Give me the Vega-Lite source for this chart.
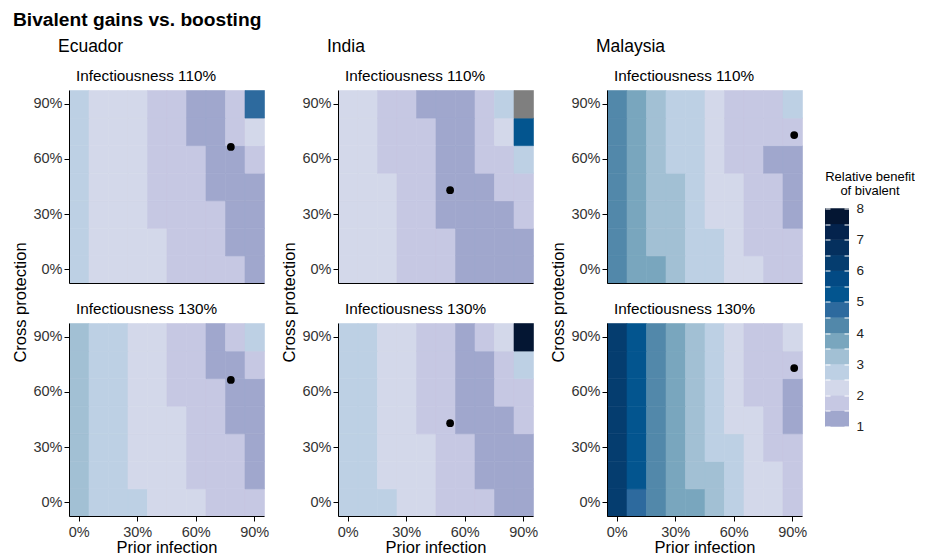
{
"$schema": "https://vega.github.io/schema/vega-lite/v6.json",
"background": "white",
"padding": {"left": 12, "top": 11, "right": 0, "bottom": 0},
"config": {
  "font": "Liberation Sans",
  "view": {"stroke": null},
  "axis": {"grid": false, "domainColor": "black", "domainWidth": 1, "tickColor": "black", "tickSize": 5, "labelColor": "#333333", "labelFontSize": 14.5, "labelPadding": 2, "labelFlush": false, "titleFontSize": 16.5, "titleFontWeight": "normal", "titleColor": "black"},
  "title": {"color": "black"}
},
"title": {"text": "Bivalent gains vs. boosting", "anchor": "start", "fontSize": 19.2, "fontWeight": "bold", "offset": 8},
"spacing": 12,
"center": true,
"hconcat": [
  {"title": {"text": "Ecuador", "anchor": "start", "fontSize": 17.5, "fontWeight": "normal", "offset": 13, "dx": 45},
   "spacing": 40, "bounds": "flush",
   "vconcat": [
    {"width": 195, "height": 193,
     "title": {"text": "Infectiousness 110%", "anchor": "start", "frame": "group", "fontSize": 15.3, "fontWeight": "normal", "dx": 7, "offset": 6},
     "layer": [
      {"data": {"name": "grid"}, "transform": [{"filter": "datum.country === 'Ecuador' && datum.inf === 110"}],
       "mark": {"type": "rect", "binSpacing": 0, "invalid": "show", "strokeWidth": 0.6},
       "encoding": {
        "x": {"field": "prior", "type": "quantitative", "bin": {"extent": [-5, 95], "step": 10, "nice": false}, "scale": {"domain": [-5, 95], "nice": false, "zero": false}, "axis": {"values": [0, 30, 60, 90], "labels": false, "ticks": false, "title": null}},
        "y": {"field": "cross", "type": "quantitative", "bin": {"extent": [-7.5, 97.5], "step": 15, "nice": false}, "scale": {"domain": [-7.5, 97.5], "nice": false, "zero": false}, "axis": {"values": [0, 30, 60, 90], "labelExpr": "datum.value + '%'", "title": "Cross protection", "titleY": 212}},
        "color": {"condition": {"test": "datum.benefit === null", "value": "#7f7f7f"}, "field": "benefit", "type": "quantitative", "legend": null, "scale": {"type": "threshold", "domain": [1.5, 2, 2.5, 3, 3.5, 4, 4.5, 5, 5.5, 6, 6.5, 7, 7.5], "range": ["#a0a7cd", "#c6c8e3", "#d3d8ea", "#bdd0e4", "#a2c0d4", "#79a6be", "#5288aa", "#2d6a9e", "#03558f", "#034a84", "#053d6f", "#05305e", "#04234d", "#041633"]}},
        "stroke": {"condition": {"test": "datum.benefit === null", "value": "#7f7f7f"}, "field": "benefit", "type": "quantitative", "legend": null, "scale": {"type": "threshold", "domain": [1.5, 2, 2.5, 3, 3.5, 4, 4.5, 5, 5.5, 6, 6.5, 7, 7.5], "range": ["#a0a7cd", "#c6c8e3", "#d3d8ea", "#bdd0e4", "#a2c0d4", "#79a6be", "#5288aa", "#2d6a9e", "#03558f", "#034a84", "#053d6f", "#05305e", "#04234d", "#041633"]}}
       }},
      {"data": {"name": "dots"}, "transform": [{"filter": "datum.country === 'Ecuador' && datum.inf === 110"}],
       "mark": {"type": "circle", "color": "black", "size": 60, "opacity": 1},
       "encoding": {"x": {"field": "prior", "type": "quantitative"}, "y": {"field": "cross", "type": "quantitative"}}}
     ]},
    {"width": 195, "height": 193,
     "title": {"text": "Infectiousness 130%", "anchor": "start", "frame": "group", "fontSize": 15.3, "fontWeight": "normal", "dx": 7, "offset": 6},
     "layer": [
      {"data": {"name": "grid"}, "transform": [{"filter": "datum.country === 'Ecuador' && datum.inf === 130"}],
       "mark": {"type": "rect", "binSpacing": 0, "invalid": "show", "strokeWidth": 0.6},
       "encoding": {
        "x": {"field": "prior", "type": "quantitative", "bin": {"extent": [-5, 95], "step": 10, "nice": false}, "scale": {"domain": [-5, 95], "nice": false, "zero": false}, "axis": {"values": [0, 30, 60, 90], "labelExpr": "datum.value + '%'", "labelPadding": 4, "title": "Prior infection", "titlePadding": 1}},
        "y": {"field": "cross", "type": "quantitative", "bin": {"extent": [-7.5, 97.5], "step": 15, "nice": false}, "scale": {"domain": [-7.5, 97.5], "nice": false, "zero": false}, "axis": {"values": [0, 30, 60, 90], "labelExpr": "datum.value + '%'", "title": null}},
        "color": {"condition": {"test": "datum.benefit === null", "value": "#7f7f7f"}, "field": "benefit", "type": "quantitative", "legend": null, "scale": {"type": "threshold", "domain": [1.5, 2, 2.5, 3, 3.5, 4, 4.5, 5, 5.5, 6, 6.5, 7, 7.5], "range": ["#a0a7cd", "#c6c8e3", "#d3d8ea", "#bdd0e4", "#a2c0d4", "#79a6be", "#5288aa", "#2d6a9e", "#03558f", "#034a84", "#053d6f", "#05305e", "#04234d", "#041633"]}},
        "stroke": {"condition": {"test": "datum.benefit === null", "value": "#7f7f7f"}, "field": "benefit", "type": "quantitative", "legend": null, "scale": {"type": "threshold", "domain": [1.5, 2, 2.5, 3, 3.5, 4, 4.5, 5, 5.5, 6, 6.5, 7, 7.5], "range": ["#a0a7cd", "#c6c8e3", "#d3d8ea", "#bdd0e4", "#a2c0d4", "#79a6be", "#5288aa", "#2d6a9e", "#03558f", "#034a84", "#053d6f", "#05305e", "#04234d", "#041633"]}}
       }},
      {"data": {"name": "dots"}, "transform": [{"filter": "datum.country === 'Ecuador' && datum.inf === 130"}],
       "mark": {"type": "circle", "color": "black", "size": 60, "opacity": 1},
       "encoding": {"x": {"field": "prior", "type": "quantitative"}, "y": {"field": "cross", "type": "quantitative"}}}
     ]}
   ]},
  {"title": {"text": "India", "anchor": "start", "fontSize": 17.5, "fontWeight": "normal", "offset": 13, "dx": 45},
   "spacing": 40, "bounds": "flush",
   "vconcat": [
    {"width": 195, "height": 193,
     "title": {"text": "Infectiousness 110%", "anchor": "start", "frame": "group", "fontSize": 15.3, "fontWeight": "normal", "dx": 7, "offset": 6},
     "layer": [
      {"data": {"name": "grid"}, "transform": [{"filter": "datum.country === 'India' && datum.inf === 110"}],
       "mark": {"type": "rect", "binSpacing": 0, "invalid": "show", "strokeWidth": 0.6},
       "encoding": {
        "x": {"field": "prior", "type": "quantitative", "bin": {"extent": [-5, 95], "step": 10, "nice": false}, "scale": {"domain": [-5, 95], "nice": false, "zero": false}, "axis": {"values": [0, 30, 60, 90], "labels": false, "ticks": false, "title": null}},
        "y": {"field": "cross", "type": "quantitative", "bin": {"extent": [-7.5, 97.5], "step": 15, "nice": false}, "scale": {"domain": [-7.5, 97.5], "nice": false, "zero": false}, "axis": {"values": [0, 30, 60, 90], "labelExpr": "datum.value + '%'", "title": "Cross protection", "titleY": 212}},
        "color": {"condition": {"test": "datum.benefit === null", "value": "#7f7f7f"}, "field": "benefit", "type": "quantitative", "legend": null, "scale": {"type": "threshold", "domain": [1.5, 2, 2.5, 3, 3.5, 4, 4.5, 5, 5.5, 6, 6.5, 7, 7.5], "range": ["#a0a7cd", "#c6c8e3", "#d3d8ea", "#bdd0e4", "#a2c0d4", "#79a6be", "#5288aa", "#2d6a9e", "#03558f", "#034a84", "#053d6f", "#05305e", "#04234d", "#041633"]}},
        "stroke": {"condition": {"test": "datum.benefit === null", "value": "#7f7f7f"}, "field": "benefit", "type": "quantitative", "legend": null, "scale": {"type": "threshold", "domain": [1.5, 2, 2.5, 3, 3.5, 4, 4.5, 5, 5.5, 6, 6.5, 7, 7.5], "range": ["#a0a7cd", "#c6c8e3", "#d3d8ea", "#bdd0e4", "#a2c0d4", "#79a6be", "#5288aa", "#2d6a9e", "#03558f", "#034a84", "#053d6f", "#05305e", "#04234d", "#041633"]}}
       }},
      {"data": {"name": "dots"}, "transform": [{"filter": "datum.country === 'India' && datum.inf === 110"}],
       "mark": {"type": "circle", "color": "black", "size": 60, "opacity": 1},
       "encoding": {"x": {"field": "prior", "type": "quantitative"}, "y": {"field": "cross", "type": "quantitative"}}}
     ]},
    {"width": 195, "height": 193,
     "title": {"text": "Infectiousness 130%", "anchor": "start", "frame": "group", "fontSize": 15.3, "fontWeight": "normal", "dx": 7, "offset": 6},
     "layer": [
      {"data": {"name": "grid"}, "transform": [{"filter": "datum.country === 'India' && datum.inf === 130"}],
       "mark": {"type": "rect", "binSpacing": 0, "invalid": "show", "strokeWidth": 0.6},
       "encoding": {
        "x": {"field": "prior", "type": "quantitative", "bin": {"extent": [-5, 95], "step": 10, "nice": false}, "scale": {"domain": [-5, 95], "nice": false, "zero": false}, "axis": {"values": [0, 30, 60, 90], "labelExpr": "datum.value + '%'", "labelPadding": 4, "title": "Prior infection", "titlePadding": 1}},
        "y": {"field": "cross", "type": "quantitative", "bin": {"extent": [-7.5, 97.5], "step": 15, "nice": false}, "scale": {"domain": [-7.5, 97.5], "nice": false, "zero": false}, "axis": {"values": [0, 30, 60, 90], "labelExpr": "datum.value + '%'", "title": null}},
        "color": {"condition": {"test": "datum.benefit === null", "value": "#7f7f7f"}, "field": "benefit", "type": "quantitative", "legend": null, "scale": {"type": "threshold", "domain": [1.5, 2, 2.5, 3, 3.5, 4, 4.5, 5, 5.5, 6, 6.5, 7, 7.5], "range": ["#a0a7cd", "#c6c8e3", "#d3d8ea", "#bdd0e4", "#a2c0d4", "#79a6be", "#5288aa", "#2d6a9e", "#03558f", "#034a84", "#053d6f", "#05305e", "#04234d", "#041633"]}},
        "stroke": {"condition": {"test": "datum.benefit === null", "value": "#7f7f7f"}, "field": "benefit", "type": "quantitative", "legend": null, "scale": {"type": "threshold", "domain": [1.5, 2, 2.5, 3, 3.5, 4, 4.5, 5, 5.5, 6, 6.5, 7, 7.5], "range": ["#a0a7cd", "#c6c8e3", "#d3d8ea", "#bdd0e4", "#a2c0d4", "#79a6be", "#5288aa", "#2d6a9e", "#03558f", "#034a84", "#053d6f", "#05305e", "#04234d", "#041633"]}}
       }},
      {"data": {"name": "dots"}, "transform": [{"filter": "datum.country === 'India' && datum.inf === 130"}],
       "mark": {"type": "circle", "color": "black", "size": 60, "opacity": 1},
       "encoding": {"x": {"field": "prior", "type": "quantitative"}, "y": {"field": "cross", "type": "quantitative"}}}
     ]}
   ]},
  {"title": {"text": "Malaysia", "anchor": "start", "fontSize": 17.5, "fontWeight": "normal", "offset": 13, "dx": 45},
   "spacing": 40, "bounds": "flush",
   "vconcat": [
    {"width": 195, "height": 193,
     "title": {"text": "Infectiousness 110%", "anchor": "start", "frame": "group", "fontSize": 15.3, "fontWeight": "normal", "dx": 7, "offset": 6},
     "layer": [
      {"data": {"name": "grid"}, "transform": [{"filter": "datum.country === 'Malaysia' && datum.inf === 110"}],
       "mark": {"type": "rect", "binSpacing": 0, "invalid": "show", "strokeWidth": 0.6},
       "encoding": {
        "x": {"field": "prior", "type": "quantitative", "bin": {"extent": [-5, 95], "step": 10, "nice": false}, "scale": {"domain": [-5, 95], "nice": false, "zero": false}, "axis": {"values": [0, 30, 60, 90], "labels": false, "ticks": false, "title": null}},
        "y": {"field": "cross", "type": "quantitative", "bin": {"extent": [-7.5, 97.5], "step": 15, "nice": false}, "scale": {"domain": [-7.5, 97.5], "nice": false, "zero": false}, "axis": {"values": [0, 30, 60, 90], "labelExpr": "datum.value + '%'", "title": "Cross protection", "titleY": 212}},
        "color": {"condition": {"test": "datum.benefit === null", "value": "#7f7f7f"}, "field": "benefit", "type": "quantitative", "legend": null, "scale": {"type": "threshold", "domain": [1.5, 2, 2.5, 3, 3.5, 4, 4.5, 5, 5.5, 6, 6.5, 7, 7.5], "range": ["#a0a7cd", "#c6c8e3", "#d3d8ea", "#bdd0e4", "#a2c0d4", "#79a6be", "#5288aa", "#2d6a9e", "#03558f", "#034a84", "#053d6f", "#05305e", "#04234d", "#041633"]}},
        "stroke": {"condition": {"test": "datum.benefit === null", "value": "#7f7f7f"}, "field": "benefit", "type": "quantitative", "legend": null, "scale": {"type": "threshold", "domain": [1.5, 2, 2.5, 3, 3.5, 4, 4.5, 5, 5.5, 6, 6.5, 7, 7.5], "range": ["#a0a7cd", "#c6c8e3", "#d3d8ea", "#bdd0e4", "#a2c0d4", "#79a6be", "#5288aa", "#2d6a9e", "#03558f", "#034a84", "#053d6f", "#05305e", "#04234d", "#041633"]}}
       }},
      {"data": {"name": "dots"}, "transform": [{"filter": "datum.country === 'Malaysia' && datum.inf === 110"}],
       "mark": {"type": "circle", "color": "black", "size": 60, "opacity": 1},
       "encoding": {"x": {"field": "prior", "type": "quantitative"}, "y": {"field": "cross", "type": "quantitative"}}}
     ]},
    {"width": 195, "height": 193,
     "title": {"text": "Infectiousness 130%", "anchor": "start", "frame": "group", "fontSize": 15.3, "fontWeight": "normal", "dx": 7, "offset": 6},
     "layer": [
      {"data": {"name": "grid"}, "transform": [{"filter": "datum.country === 'Malaysia' && datum.inf === 130"}],
       "mark": {"type": "rect", "binSpacing": 0, "invalid": "show", "strokeWidth": 0.6},
       "encoding": {
        "x": {"field": "prior", "type": "quantitative", "bin": {"extent": [-5, 95], "step": 10, "nice": false}, "scale": {"domain": [-5, 95], "nice": false, "zero": false}, "axis": {"values": [0, 30, 60, 90], "labelExpr": "datum.value + '%'", "labelPadding": 4, "title": "Prior infection", "titlePadding": 1}},
        "y": {"field": "cross", "type": "quantitative", "bin": {"extent": [-7.5, 97.5], "step": 15, "nice": false}, "scale": {"domain": [-7.5, 97.5], "nice": false, "zero": false}, "axis": {"values": [0, 30, 60, 90], "labelExpr": "datum.value + '%'", "title": null}},
        "color": {"condition": {"test": "datum.benefit === null", "value": "#7f7f7f"}, "field": "benefit", "type": "quantitative", "legend": null, "scale": {"type": "threshold", "domain": [1.5, 2, 2.5, 3, 3.5, 4, 4.5, 5, 5.5, 6, 6.5, 7, 7.5], "range": ["#a0a7cd", "#c6c8e3", "#d3d8ea", "#bdd0e4", "#a2c0d4", "#79a6be", "#5288aa", "#2d6a9e", "#03558f", "#034a84", "#053d6f", "#05305e", "#04234d", "#041633"]}},
        "stroke": {"condition": {"test": "datum.benefit === null", "value": "#7f7f7f"}, "field": "benefit", "type": "quantitative", "legend": null, "scale": {"type": "threshold", "domain": [1.5, 2, 2.5, 3, 3.5, 4, 4.5, 5, 5.5, 6, 6.5, 7, 7.5], "range": ["#a0a7cd", "#c6c8e3", "#d3d8ea", "#bdd0e4", "#a2c0d4", "#79a6be", "#5288aa", "#2d6a9e", "#03558f", "#034a84", "#053d6f", "#05305e", "#04234d", "#041633"]}}
       }},
      {"data": {"name": "dots"}, "transform": [{"filter": "datum.country === 'Malaysia' && datum.inf === 130"}],
       "mark": {"type": "circle", "color": "black", "size": 60, "opacity": 1},
       "encoding": {"x": {"field": "prior", "type": "quantitative"}, "y": {"field": "cross", "type": "quantitative"}}}
     ]}
   ]},
 {"width": 24, "height": 218,
  "title": {"text": ["Relative benefit", "of bivalent"], "anchor": "start", "align": "center", "dx": 51, "fontSize": 13, "fontWeight": "normal", "lineHeight": 14, "offset": 4},
  "data": {"name": "legend"},
  "layer": [
   {"mark": {"type": "rect"},
    "encoding": {
     "x": {"datum": 0, "type": "quantitative", "scale": {"domain": [0, 1], "nice": false, "zero": false}, "axis": {"orient": "bottom", "domain": true, "domainOpacity": 0, "ticks": false, "labels": false, "title": null, "minExtent": 11, "maxExtent": 11}},
     "x2": {"datum": 1},
     "y": {"field": "lo", "type": "quantitative", "scale": {"domain": [1, 8], "nice": false, "zero": false}, "axis": {"orient": "right", "values": [1, 1.5, 2, 2.5, 3, 3.5, 4, 4.5, 5, 5.5, 6, 6.5, 7, 7.5, 8], "labelExpr": "datum.value % 1 === 0 ? format(datum.value, 'd') : ''", "tickColor": "white", "tickSize": -5, "labelPadding": 12, "domain": false, "labelFontSize": 13.5, "labelColor": "#222222", "title": null, "zindex": 1}},
     "y2": {"field": "hi"},
     "color": {"field": "lo", "type": "quantitative", "legend": null, "scale": {"type": "threshold", "domain": [1.5, 2, 2.5, 3, 3.5, 4, 4.5, 5, 5.5, 6, 6.5, 7, 7.5], "range": ["#a0a7cd", "#c6c8e3", "#d3d8ea", "#bdd0e4", "#a2c0d4", "#79a6be", "#5288aa", "#2d6a9e", "#03558f", "#034a84", "#053d6f", "#05305e", "#04234d", "#041633"]}}
    }},
   {"mark": {"type": "rect"},
    "encoding": {
     "x": {"datum": 0, "type": "quantitative"},
     "x2": {"datum": 1},
     "y": {"field": "lo", "type": "quantitative", "axis": {"orient": "left", "values": [1, 1.5, 2, 2.5, 3, 3.5, 4, 4.5, 5, 5.5, 6, 6.5, 7, 7.5, 8], "labels": false, "tickColor": "white", "tickSize": -5, "domain": false, "title": null, "zindex": 1, "minExtent": 6}},
     "y2": {"field": "hi"},
     "color": {"field": "lo", "type": "quantitative", "legend": null, "scale": {"type": "threshold", "domain": [1.5, 2, 2.5, 3, 3.5, 4, 4.5, 5, 5.5, 6, 6.5, 7, 7.5], "range": ["#a0a7cd", "#c6c8e3", "#d3d8ea", "#bdd0e4", "#a2c0d4", "#79a6be", "#5288aa", "#2d6a9e", "#03558f", "#034a84", "#053d6f", "#05305e", "#04234d", "#041633"]}}
    }}
  ],
  "resolve": {"axis": {"y": "independent"}}
 }
],
"datasets": {
 "legend": [
  {"lo": 1, "hi": 1.5}, {"lo": 1.5, "hi": 2}, {"lo": 2, "hi": 2.5}, {"lo": 2.5, "hi": 3}, {"lo": 3, "hi": 3.5}, {"lo": 3.5, "hi": 4}, {"lo": 4, "hi": 4.5},
  {"lo": 4.5, "hi": 5}, {"lo": 5, "hi": 5.5}, {"lo": 5.5, "hi": 6}, {"lo": 6, "hi": 6.5}, {"lo": 6.5, "hi": 7}, {"lo": 7, "hi": 7.5}, {"lo": 7.5, "hi": 8}
 ],
 "dots": [
  {"country": "Ecuador", "inf": 110, "prior": 78, "cross": 66.5},
  {"country": "Ecuador", "inf": 130, "prior": 78, "cross": 66.5},
  {"country": "India", "inf": 110, "prior": 52.5, "cross": 43},
  {"country": "India", "inf": 130, "prior": 52.5, "cross": 43},
  {"country": "Malaysia", "inf": 110, "prior": 91, "cross": 73},
  {"country": "Malaysia", "inf": 130, "prior": 91, "cross": 73}
 ],
 "grid": [
  {"country":"Ecuador","inf":110,"prior":0,"cross":0,"benefit":2.75},{"country":"Ecuador","inf":110,"prior":10,"cross":0,"benefit":2.25},{"country":"Ecuador","inf":110,"prior":20,"cross":0,"benefit":2.25},{"country":"Ecuador","inf":110,"prior":30,"cross":0,"benefit":2.25},{"country":"Ecuador","inf":110,"prior":40,"cross":0,"benefit":2.25},{"country":"Ecuador","inf":110,"prior":50,"cross":0,"benefit":1.75},{"country":"Ecuador","inf":110,"prior":60,"cross":0,"benefit":1.75},{"country":"Ecuador","inf":110,"prior":70,"cross":0,"benefit":1.75},{"country":"Ecuador","inf":110,"prior":80,"cross":0,"benefit":1.75},{"country":"Ecuador","inf":110,"prior":90,"cross":0,"benefit":1.25},
  {"country":"Ecuador","inf":110,"prior":0,"cross":15,"benefit":2.75},{"country":"Ecuador","inf":110,"prior":10,"cross":15,"benefit":2.25},{"country":"Ecuador","inf":110,"prior":20,"cross":15,"benefit":2.25},{"country":"Ecuador","inf":110,"prior":30,"cross":15,"benefit":2.25},{"country":"Ecuador","inf":110,"prior":40,"cross":15,"benefit":2.25},{"country":"Ecuador","inf":110,"prior":50,"cross":15,"benefit":1.75},{"country":"Ecuador","inf":110,"prior":60,"cross":15,"benefit":1.75},{"country":"Ecuador","inf":110,"prior":70,"cross":15,"benefit":1.75},{"country":"Ecuador","inf":110,"prior":80,"cross":15,"benefit":1.25},{"country":"Ecuador","inf":110,"prior":90,"cross":15,"benefit":1.25},
  {"country":"Ecuador","inf":110,"prior":0,"cross":30,"benefit":2.75},{"country":"Ecuador","inf":110,"prior":10,"cross":30,"benefit":2.25},{"country":"Ecuador","inf":110,"prior":20,"cross":30,"benefit":2.25},{"country":"Ecuador","inf":110,"prior":30,"cross":30,"benefit":2.25},{"country":"Ecuador","inf":110,"prior":40,"cross":30,"benefit":1.75},{"country":"Ecuador","inf":110,"prior":50,"cross":30,"benefit":1.75},{"country":"Ecuador","inf":110,"prior":60,"cross":30,"benefit":1.75},{"country":"Ecuador","inf":110,"prior":70,"cross":30,"benefit":1.75},{"country":"Ecuador","inf":110,"prior":80,"cross":30,"benefit":1.25},{"country":"Ecuador","inf":110,"prior":90,"cross":30,"benefit":1.25},
  {"country":"Ecuador","inf":110,"prior":0,"cross":45,"benefit":2.75},{"country":"Ecuador","inf":110,"prior":10,"cross":45,"benefit":2.25},{"country":"Ecuador","inf":110,"prior":20,"cross":45,"benefit":2.25},{"country":"Ecuador","inf":110,"prior":30,"cross":45,"benefit":2.25},{"country":"Ecuador","inf":110,"prior":40,"cross":45,"benefit":1.75},{"country":"Ecuador","inf":110,"prior":50,"cross":45,"benefit":1.75},{"country":"Ecuador","inf":110,"prior":60,"cross":45,"benefit":1.75},{"country":"Ecuador","inf":110,"prior":70,"cross":45,"benefit":1.25},{"country":"Ecuador","inf":110,"prior":80,"cross":45,"benefit":1.25},{"country":"Ecuador","inf":110,"prior":90,"cross":45,"benefit":1.25},
  {"country":"Ecuador","inf":110,"prior":0,"cross":60,"benefit":2.75},{"country":"Ecuador","inf":110,"prior":10,"cross":60,"benefit":2.25},{"country":"Ecuador","inf":110,"prior":20,"cross":60,"benefit":2.25},{"country":"Ecuador","inf":110,"prior":30,"cross":60,"benefit":2.25},{"country":"Ecuador","inf":110,"prior":40,"cross":60,"benefit":1.75},{"country":"Ecuador","inf":110,"prior":50,"cross":60,"benefit":1.75},{"country":"Ecuador","inf":110,"prior":60,"cross":60,"benefit":1.75},{"country":"Ecuador","inf":110,"prior":70,"cross":60,"benefit":1.25},{"country":"Ecuador","inf":110,"prior":80,"cross":60,"benefit":1.25},{"country":"Ecuador","inf":110,"prior":90,"cross":60,"benefit":1.75},
  {"country":"Ecuador","inf":110,"prior":0,"cross":75,"benefit":2.75},{"country":"Ecuador","inf":110,"prior":10,"cross":75,"benefit":2.25},{"country":"Ecuador","inf":110,"prior":20,"cross":75,"benefit":2.25},{"country":"Ecuador","inf":110,"prior":30,"cross":75,"benefit":2.25},{"country":"Ecuador","inf":110,"prior":40,"cross":75,"benefit":1.75},{"country":"Ecuador","inf":110,"prior":50,"cross":75,"benefit":1.75},{"country":"Ecuador","inf":110,"prior":60,"cross":75,"benefit":1.25},{"country":"Ecuador","inf":110,"prior":70,"cross":75,"benefit":1.25},{"country":"Ecuador","inf":110,"prior":80,"cross":75,"benefit":1.75},{"country":"Ecuador","inf":110,"prior":90,"cross":75,"benefit":2.25},
  {"country":"Ecuador","inf":110,"prior":0,"cross":90,"benefit":2.75},{"country":"Ecuador","inf":110,"prior":10,"cross":90,"benefit":2.25},{"country":"Ecuador","inf":110,"prior":20,"cross":90,"benefit":2.25},{"country":"Ecuador","inf":110,"prior":30,"cross":90,"benefit":2.25},{"country":"Ecuador","inf":110,"prior":40,"cross":90,"benefit":1.75},{"country":"Ecuador","inf":110,"prior":50,"cross":90,"benefit":1.75},{"country":"Ecuador","inf":110,"prior":60,"cross":90,"benefit":1.25},{"country":"Ecuador","inf":110,"prior":70,"cross":90,"benefit":1.25},{"country":"Ecuador","inf":110,"prior":80,"cross":90,"benefit":1.75},{"country":"Ecuador","inf":110,"prior":90,"cross":90,"benefit":4.75},

  {"country":"Ecuador","inf":130,"prior":0,"cross":0,"benefit":3.25},{"country":"Ecuador","inf":130,"prior":10,"cross":0,"benefit":2.75},{"country":"Ecuador","inf":130,"prior":20,"cross":0,"benefit":2.75},{"country":"Ecuador","inf":130,"prior":30,"cross":0,"benefit":2.75},{"country":"Ecuador","inf":130,"prior":40,"cross":0,"benefit":2.25},{"country":"Ecuador","inf":130,"prior":50,"cross":0,"benefit":2.25},{"country":"Ecuador","inf":130,"prior":60,"cross":0,"benefit":2.25},{"country":"Ecuador","inf":130,"prior":70,"cross":0,"benefit":1.75},{"country":"Ecuador","inf":130,"prior":80,"cross":0,"benefit":1.75},{"country":"Ecuador","inf":130,"prior":90,"cross":0,"benefit":1.75},
  {"country":"Ecuador","inf":130,"prior":0,"cross":15,"benefit":3.25},{"country":"Ecuador","inf":130,"prior":10,"cross":15,"benefit":2.75},{"country":"Ecuador","inf":130,"prior":20,"cross":15,"benefit":2.75},{"country":"Ecuador","inf":130,"prior":30,"cross":15,"benefit":2.25},{"country":"Ecuador","inf":130,"prior":40,"cross":15,"benefit":2.25},{"country":"Ecuador","inf":130,"prior":50,"cross":15,"benefit":2.25},{"country":"Ecuador","inf":130,"prior":60,"cross":15,"benefit":1.75},{"country":"Ecuador","inf":130,"prior":70,"cross":15,"benefit":1.75},{"country":"Ecuador","inf":130,"prior":80,"cross":15,"benefit":1.75},{"country":"Ecuador","inf":130,"prior":90,"cross":15,"benefit":1.25},
  {"country":"Ecuador","inf":130,"prior":0,"cross":30,"benefit":3.25},{"country":"Ecuador","inf":130,"prior":10,"cross":30,"benefit":2.75},{"country":"Ecuador","inf":130,"prior":20,"cross":30,"benefit":2.75},{"country":"Ecuador","inf":130,"prior":30,"cross":30,"benefit":2.25},{"country":"Ecuador","inf":130,"prior":40,"cross":30,"benefit":2.25},{"country":"Ecuador","inf":130,"prior":50,"cross":30,"benefit":2.25},{"country":"Ecuador","inf":130,"prior":60,"cross":30,"benefit":1.75},{"country":"Ecuador","inf":130,"prior":70,"cross":30,"benefit":1.75},{"country":"Ecuador","inf":130,"prior":80,"cross":30,"benefit":1.75},{"country":"Ecuador","inf":130,"prior":90,"cross":30,"benefit":1.25},
  {"country":"Ecuador","inf":130,"prior":0,"cross":45,"benefit":3.25},{"country":"Ecuador","inf":130,"prior":10,"cross":45,"benefit":2.75},{"country":"Ecuador","inf":130,"prior":20,"cross":45,"benefit":2.75},{"country":"Ecuador","inf":130,"prior":30,"cross":45,"benefit":2.25},{"country":"Ecuador","inf":130,"prior":40,"cross":45,"benefit":2.25},{"country":"Ecuador","inf":130,"prior":50,"cross":45,"benefit":2.25},{"country":"Ecuador","inf":130,"prior":60,"cross":45,"benefit":1.75},{"country":"Ecuador","inf":130,"prior":70,"cross":45,"benefit":1.75},{"country":"Ecuador","inf":130,"prior":80,"cross":45,"benefit":1.25},{"country":"Ecuador","inf":130,"prior":90,"cross":45,"benefit":1.25},
  {"country":"Ecuador","inf":130,"prior":0,"cross":60,"benefit":3.25},{"country":"Ecuador","inf":130,"prior":10,"cross":60,"benefit":2.75},{"country":"Ecuador","inf":130,"prior":20,"cross":60,"benefit":2.75},{"country":"Ecuador","inf":130,"prior":30,"cross":60,"benefit":2.25},{"country":"Ecuador","inf":130,"prior":40,"cross":60,"benefit":2.25},{"country":"Ecuador","inf":130,"prior":50,"cross":60,"benefit":1.75},{"country":"Ecuador","inf":130,"prior":60,"cross":60,"benefit":1.75},{"country":"Ecuador","inf":130,"prior":70,"cross":60,"benefit":1.75},{"country":"Ecuador","inf":130,"prior":80,"cross":60,"benefit":1.25},{"country":"Ecuador","inf":130,"prior":90,"cross":60,"benefit":1.25},
  {"country":"Ecuador","inf":130,"prior":0,"cross":75,"benefit":3.25},{"country":"Ecuador","inf":130,"prior":10,"cross":75,"benefit":2.75},{"country":"Ecuador","inf":130,"prior":20,"cross":75,"benefit":2.75},{"country":"Ecuador","inf":130,"prior":30,"cross":75,"benefit":2.25},{"country":"Ecuador","inf":130,"prior":40,"cross":75,"benefit":2.25},{"country":"Ecuador","inf":130,"prior":50,"cross":75,"benefit":1.75},{"country":"Ecuador","inf":130,"prior":60,"cross":75,"benefit":1.75},{"country":"Ecuador","inf":130,"prior":70,"cross":75,"benefit":1.25},{"country":"Ecuador","inf":130,"prior":80,"cross":75,"benefit":1.25},{"country":"Ecuador","inf":130,"prior":90,"cross":75,"benefit":1.75},
  {"country":"Ecuador","inf":130,"prior":0,"cross":90,"benefit":3.25},{"country":"Ecuador","inf":130,"prior":10,"cross":90,"benefit":2.75},{"country":"Ecuador","inf":130,"prior":20,"cross":90,"benefit":2.75},{"country":"Ecuador","inf":130,"prior":30,"cross":90,"benefit":2.25},{"country":"Ecuador","inf":130,"prior":40,"cross":90,"benefit":2.25},{"country":"Ecuador","inf":130,"prior":50,"cross":90,"benefit":1.75},{"country":"Ecuador","inf":130,"prior":60,"cross":90,"benefit":1.75},{"country":"Ecuador","inf":130,"prior":70,"cross":90,"benefit":1.25},{"country":"Ecuador","inf":130,"prior":80,"cross":90,"benefit":1.75},{"country":"Ecuador","inf":130,"prior":90,"cross":90,"benefit":2.75},

  {"country":"India","inf":110,"prior":0,"cross":0,"benefit":2.25},{"country":"India","inf":110,"prior":10,"cross":0,"benefit":2.25},{"country":"India","inf":110,"prior":20,"cross":0,"benefit":2.25},{"country":"India","inf":110,"prior":30,"cross":0,"benefit":1.75},{"country":"India","inf":110,"prior":40,"cross":0,"benefit":1.75},{"country":"India","inf":110,"prior":50,"cross":0,"benefit":1.75},{"country":"India","inf":110,"prior":60,"cross":0,"benefit":1.25},{"country":"India","inf":110,"prior":70,"cross":0,"benefit":1.25},{"country":"India","inf":110,"prior":80,"cross":0,"benefit":1.25},{"country":"India","inf":110,"prior":90,"cross":0,"benefit":1.25},
  {"country":"India","inf":110,"prior":0,"cross":15,"benefit":2.25},{"country":"India","inf":110,"prior":10,"cross":15,"benefit":2.25},{"country":"India","inf":110,"prior":20,"cross":15,"benefit":2.25},{"country":"India","inf":110,"prior":30,"cross":15,"benefit":1.75},{"country":"India","inf":110,"prior":40,"cross":15,"benefit":1.75},{"country":"India","inf":110,"prior":50,"cross":15,"benefit":1.75},{"country":"India","inf":110,"prior":60,"cross":15,"benefit":1.25},{"country":"India","inf":110,"prior":70,"cross":15,"benefit":1.25},{"country":"India","inf":110,"prior":80,"cross":15,"benefit":1.25},{"country":"India","inf":110,"prior":90,"cross":15,"benefit":1.25},
  {"country":"India","inf":110,"prior":0,"cross":30,"benefit":2.25},{"country":"India","inf":110,"prior":10,"cross":30,"benefit":2.25},{"country":"India","inf":110,"prior":20,"cross":30,"benefit":2.25},{"country":"India","inf":110,"prior":30,"cross":30,"benefit":1.75},{"country":"India","inf":110,"prior":40,"cross":30,"benefit":1.75},{"country":"India","inf":110,"prior":50,"cross":30,"benefit":1.25},{"country":"India","inf":110,"prior":60,"cross":30,"benefit":1.25},{"country":"India","inf":110,"prior":70,"cross":30,"benefit":1.25},{"country":"India","inf":110,"prior":80,"cross":30,"benefit":1.25},{"country":"India","inf":110,"prior":90,"cross":30,"benefit":1.75},
  {"country":"India","inf":110,"prior":0,"cross":45,"benefit":2.25},{"country":"India","inf":110,"prior":10,"cross":45,"benefit":2.25},{"country":"India","inf":110,"prior":20,"cross":45,"benefit":2.25},{"country":"India","inf":110,"prior":30,"cross":45,"benefit":1.75},{"country":"India","inf":110,"prior":40,"cross":45,"benefit":1.75},{"country":"India","inf":110,"prior":50,"cross":45,"benefit":1.25},{"country":"India","inf":110,"prior":60,"cross":45,"benefit":1.25},{"country":"India","inf":110,"prior":70,"cross":45,"benefit":1.25},{"country":"India","inf":110,"prior":80,"cross":45,"benefit":1.75},{"country":"India","inf":110,"prior":90,"cross":45,"benefit":1.75},
  {"country":"India","inf":110,"prior":0,"cross":60,"benefit":2.25},{"country":"India","inf":110,"prior":10,"cross":60,"benefit":2.25},{"country":"India","inf":110,"prior":20,"cross":60,"benefit":1.75},{"country":"India","inf":110,"prior":30,"cross":60,"benefit":1.75},{"country":"India","inf":110,"prior":40,"cross":60,"benefit":1.75},{"country":"India","inf":110,"prior":50,"cross":60,"benefit":1.25},{"country":"India","inf":110,"prior":60,"cross":60,"benefit":1.25},{"country":"India","inf":110,"prior":70,"cross":60,"benefit":1.75},{"country":"India","inf":110,"prior":80,"cross":60,"benefit":1.75},{"country":"India","inf":110,"prior":90,"cross":60,"benefit":2.75},
  {"country":"India","inf":110,"prior":0,"cross":75,"benefit":2.25},{"country":"India","inf":110,"prior":10,"cross":75,"benefit":2.25},{"country":"India","inf":110,"prior":20,"cross":75,"benefit":1.75},{"country":"India","inf":110,"prior":30,"cross":75,"benefit":1.75},{"country":"India","inf":110,"prior":40,"cross":75,"benefit":1.75},{"country":"India","inf":110,"prior":50,"cross":75,"benefit":1.25},{"country":"India","inf":110,"prior":60,"cross":75,"benefit":1.25},{"country":"India","inf":110,"prior":70,"cross":75,"benefit":1.75},{"country":"India","inf":110,"prior":80,"cross":75,"benefit":2.25},{"country":"India","inf":110,"prior":90,"cross":75,"benefit":5.25},
  {"country":"India","inf":110,"prior":0,"cross":90,"benefit":2.25},{"country":"India","inf":110,"prior":10,"cross":90,"benefit":2.25},{"country":"India","inf":110,"prior":20,"cross":90,"benefit":1.75},{"country":"India","inf":110,"prior":30,"cross":90,"benefit":1.75},{"country":"India","inf":110,"prior":40,"cross":90,"benefit":1.25},{"country":"India","inf":110,"prior":50,"cross":90,"benefit":1.25},{"country":"India","inf":110,"prior":60,"cross":90,"benefit":1.25},{"country":"India","inf":110,"prior":70,"cross":90,"benefit":1.75},{"country":"India","inf":110,"prior":80,"cross":90,"benefit":2.75},{"country":"India","inf":110,"prior":90,"cross":90,"benefit":null},

  {"country":"India","inf":130,"prior":0,"cross":0,"benefit":2.75},{"country":"India","inf":130,"prior":10,"cross":0,"benefit":2.75},{"country":"India","inf":130,"prior":20,"cross":0,"benefit":2.75},{"country":"India","inf":130,"prior":30,"cross":0,"benefit":2.25},{"country":"India","inf":130,"prior":40,"cross":0,"benefit":2.25},{"country":"India","inf":130,"prior":50,"cross":0,"benefit":1.75},{"country":"India","inf":130,"prior":60,"cross":0,"benefit":1.75},{"country":"India","inf":130,"prior":70,"cross":0,"benefit":1.75},{"country":"India","inf":130,"prior":80,"cross":0,"benefit":1.25},{"country":"India","inf":130,"prior":90,"cross":0,"benefit":1.25},
  {"country":"India","inf":130,"prior":0,"cross":15,"benefit":2.75},{"country":"India","inf":130,"prior":10,"cross":15,"benefit":2.75},{"country":"India","inf":130,"prior":20,"cross":15,"benefit":2.25},{"country":"India","inf":130,"prior":30,"cross":15,"benefit":2.25},{"country":"India","inf":130,"prior":40,"cross":15,"benefit":2.25},{"country":"India","inf":130,"prior":50,"cross":15,"benefit":1.75},{"country":"India","inf":130,"prior":60,"cross":15,"benefit":1.75},{"country":"India","inf":130,"prior":70,"cross":15,"benefit":1.25},{"country":"India","inf":130,"prior":80,"cross":15,"benefit":1.25},{"country":"India","inf":130,"prior":90,"cross":15,"benefit":1.25},
  {"country":"India","inf":130,"prior":0,"cross":30,"benefit":2.75},{"country":"India","inf":130,"prior":10,"cross":30,"benefit":2.75},{"country":"India","inf":130,"prior":20,"cross":30,"benefit":2.25},{"country":"India","inf":130,"prior":30,"cross":30,"benefit":2.25},{"country":"India","inf":130,"prior":40,"cross":30,"benefit":2.25},{"country":"India","inf":130,"prior":50,"cross":30,"benefit":1.75},{"country":"India","inf":130,"prior":60,"cross":30,"benefit":1.75},{"country":"India","inf":130,"prior":70,"cross":30,"benefit":1.25},{"country":"India","inf":130,"prior":80,"cross":30,"benefit":1.25},{"country":"India","inf":130,"prior":90,"cross":30,"benefit":1.25},
  {"country":"India","inf":130,"prior":0,"cross":45,"benefit":2.75},{"country":"India","inf":130,"prior":10,"cross":45,"benefit":2.75},{"country":"India","inf":130,"prior":20,"cross":45,"benefit":2.25},{"country":"India","inf":130,"prior":30,"cross":45,"benefit":2.25},{"country":"India","inf":130,"prior":40,"cross":45,"benefit":1.75},{"country":"India","inf":130,"prior":50,"cross":45,"benefit":1.75},{"country":"India","inf":130,"prior":60,"cross":45,"benefit":1.25},{"country":"India","inf":130,"prior":70,"cross":45,"benefit":1.25},{"country":"India","inf":130,"prior":80,"cross":45,"benefit":1.25},{"country":"India","inf":130,"prior":90,"cross":45,"benefit":1.75},
  {"country":"India","inf":130,"prior":0,"cross":60,"benefit":2.75},{"country":"India","inf":130,"prior":10,"cross":60,"benefit":2.75},{"country":"India","inf":130,"prior":20,"cross":60,"benefit":2.25},{"country":"India","inf":130,"prior":30,"cross":60,"benefit":2.25},{"country":"India","inf":130,"prior":40,"cross":60,"benefit":1.75},{"country":"India","inf":130,"prior":50,"cross":60,"benefit":1.75},{"country":"India","inf":130,"prior":60,"cross":60,"benefit":1.25},{"country":"India","inf":130,"prior":70,"cross":60,"benefit":1.25},{"country":"India","inf":130,"prior":80,"cross":60,"benefit":1.75},{"country":"India","inf":130,"prior":90,"cross":60,"benefit":1.75},
  {"country":"India","inf":130,"prior":0,"cross":75,"benefit":2.75},{"country":"India","inf":130,"prior":10,"cross":75,"benefit":2.75},{"country":"India","inf":130,"prior":20,"cross":75,"benefit":2.25},{"country":"India","inf":130,"prior":30,"cross":75,"benefit":2.25},{"country":"India","inf":130,"prior":40,"cross":75,"benefit":1.75},{"country":"India","inf":130,"prior":50,"cross":75,"benefit":1.75},{"country":"India","inf":130,"prior":60,"cross":75,"benefit":1.25},{"country":"India","inf":130,"prior":70,"cross":75,"benefit":1.25},{"country":"India","inf":130,"prior":80,"cross":75,"benefit":1.75},{"country":"India","inf":130,"prior":90,"cross":75,"benefit":2.75},
  {"country":"India","inf":130,"prior":0,"cross":90,"benefit":2.75},{"country":"India","inf":130,"prior":10,"cross":90,"benefit":2.75},{"country":"India","inf":130,"prior":20,"cross":90,"benefit":2.25},{"country":"India","inf":130,"prior":30,"cross":90,"benefit":2.25},{"country":"India","inf":130,"prior":40,"cross":90,"benefit":1.75},{"country":"India","inf":130,"prior":50,"cross":90,"benefit":1.75},{"country":"India","inf":130,"prior":60,"cross":90,"benefit":1.25},{"country":"India","inf":130,"prior":70,"cross":90,"benefit":1.75},{"country":"India","inf":130,"prior":80,"cross":90,"benefit":2.25},{"country":"India","inf":130,"prior":90,"cross":90,"benefit":7.75},

  {"country":"Malaysia","inf":110,"prior":0,"cross":0,"benefit":4.25},{"country":"Malaysia","inf":110,"prior":10,"cross":0,"benefit":3.75},{"country":"Malaysia","inf":110,"prior":20,"cross":0,"benefit":3.75},{"country":"Malaysia","inf":110,"prior":30,"cross":0,"benefit":3.25},{"country":"Malaysia","inf":110,"prior":40,"cross":0,"benefit":2.75},{"country":"Malaysia","inf":110,"prior":50,"cross":0,"benefit":2.75},{"country":"Malaysia","inf":110,"prior":60,"cross":0,"benefit":2.25},{"country":"Malaysia","inf":110,"prior":70,"cross":0,"benefit":2.25},{"country":"Malaysia","inf":110,"prior":80,"cross":0,"benefit":1.75},{"country":"Malaysia","inf":110,"prior":90,"cross":0,"benefit":1.75},
  {"country":"Malaysia","inf":110,"prior":0,"cross":15,"benefit":4.25},{"country":"Malaysia","inf":110,"prior":10,"cross":15,"benefit":3.75},{"country":"Malaysia","inf":110,"prior":20,"cross":15,"benefit":3.25},{"country":"Malaysia","inf":110,"prior":30,"cross":15,"benefit":3.25},{"country":"Malaysia","inf":110,"prior":40,"cross":15,"benefit":2.75},{"country":"Malaysia","inf":110,"prior":50,"cross":15,"benefit":2.75},{"country":"Malaysia","inf":110,"prior":60,"cross":15,"benefit":2.25},{"country":"Malaysia","inf":110,"prior":70,"cross":15,"benefit":1.75},{"country":"Malaysia","inf":110,"prior":80,"cross":15,"benefit":1.75},{"country":"Malaysia","inf":110,"prior":90,"cross":15,"benefit":1.75},
  {"country":"Malaysia","inf":110,"prior":0,"cross":30,"benefit":4.25},{"country":"Malaysia","inf":110,"prior":10,"cross":30,"benefit":3.75},{"country":"Malaysia","inf":110,"prior":20,"cross":30,"benefit":3.25},{"country":"Malaysia","inf":110,"prior":30,"cross":30,"benefit":3.25},{"country":"Malaysia","inf":110,"prior":40,"cross":30,"benefit":2.75},{"country":"Malaysia","inf":110,"prior":50,"cross":30,"benefit":2.25},{"country":"Malaysia","inf":110,"prior":60,"cross":30,"benefit":2.25},{"country":"Malaysia","inf":110,"prior":70,"cross":30,"benefit":1.75},{"country":"Malaysia","inf":110,"prior":80,"cross":30,"benefit":1.75},{"country":"Malaysia","inf":110,"prior":90,"cross":30,"benefit":1.25},
  {"country":"Malaysia","inf":110,"prior":0,"cross":45,"benefit":4.25},{"country":"Malaysia","inf":110,"prior":10,"cross":45,"benefit":3.75},{"country":"Malaysia","inf":110,"prior":20,"cross":45,"benefit":3.25},{"country":"Malaysia","inf":110,"prior":30,"cross":45,"benefit":3.25},{"country":"Malaysia","inf":110,"prior":40,"cross":45,"benefit":2.75},{"country":"Malaysia","inf":110,"prior":50,"cross":45,"benefit":2.25},{"country":"Malaysia","inf":110,"prior":60,"cross":45,"benefit":2.25},{"country":"Malaysia","inf":110,"prior":70,"cross":45,"benefit":1.75},{"country":"Malaysia","inf":110,"prior":80,"cross":45,"benefit":1.75},{"country":"Malaysia","inf":110,"prior":90,"cross":45,"benefit":1.25},
  {"country":"Malaysia","inf":110,"prior":0,"cross":60,"benefit":4.25},{"country":"Malaysia","inf":110,"prior":10,"cross":60,"benefit":3.75},{"country":"Malaysia","inf":110,"prior":20,"cross":60,"benefit":3.25},{"country":"Malaysia","inf":110,"prior":30,"cross":60,"benefit":2.75},{"country":"Malaysia","inf":110,"prior":40,"cross":60,"benefit":2.75},{"country":"Malaysia","inf":110,"prior":50,"cross":60,"benefit":2.25},{"country":"Malaysia","inf":110,"prior":60,"cross":60,"benefit":1.75},{"country":"Malaysia","inf":110,"prior":70,"cross":60,"benefit":1.75},{"country":"Malaysia","inf":110,"prior":80,"cross":60,"benefit":1.25},{"country":"Malaysia","inf":110,"prior":90,"cross":60,"benefit":1.25},
  {"country":"Malaysia","inf":110,"prior":0,"cross":75,"benefit":4.25},{"country":"Malaysia","inf":110,"prior":10,"cross":75,"benefit":3.75},{"country":"Malaysia","inf":110,"prior":20,"cross":75,"benefit":3.25},{"country":"Malaysia","inf":110,"prior":30,"cross":75,"benefit":2.75},{"country":"Malaysia","inf":110,"prior":40,"cross":75,"benefit":2.75},{"country":"Malaysia","inf":110,"prior":50,"cross":75,"benefit":2.25},{"country":"Malaysia","inf":110,"prior":60,"cross":75,"benefit":1.75},{"country":"Malaysia","inf":110,"prior":70,"cross":75,"benefit":1.75},{"country":"Malaysia","inf":110,"prior":80,"cross":75,"benefit":1.75},{"country":"Malaysia","inf":110,"prior":90,"cross":75,"benefit":1.75},
  {"country":"Malaysia","inf":110,"prior":0,"cross":90,"benefit":4.25},{"country":"Malaysia","inf":110,"prior":10,"cross":90,"benefit":3.75},{"country":"Malaysia","inf":110,"prior":20,"cross":90,"benefit":3.25},{"country":"Malaysia","inf":110,"prior":30,"cross":90,"benefit":2.75},{"country":"Malaysia","inf":110,"prior":40,"cross":90,"benefit":2.75},{"country":"Malaysia","inf":110,"prior":50,"cross":90,"benefit":2.25},{"country":"Malaysia","inf":110,"prior":60,"cross":90,"benefit":1.75},{"country":"Malaysia","inf":110,"prior":70,"cross":90,"benefit":1.75},{"country":"Malaysia","inf":110,"prior":80,"cross":90,"benefit":1.75},{"country":"Malaysia","inf":110,"prior":90,"cross":90,"benefit":2.75},

  {"country":"Malaysia","inf":130,"prior":0,"cross":0,"benefit":6.25},{"country":"Malaysia","inf":130,"prior":10,"cross":0,"benefit":4.75},{"country":"Malaysia","inf":130,"prior":20,"cross":0,"benefit":4.25},{"country":"Malaysia","inf":130,"prior":30,"cross":0,"benefit":3.75},{"country":"Malaysia","inf":130,"prior":40,"cross":0,"benefit":3.75},{"country":"Malaysia","inf":130,"prior":50,"cross":0,"benefit":3.25},{"country":"Malaysia","inf":130,"prior":60,"cross":0,"benefit":2.75},{"country":"Malaysia","inf":130,"prior":70,"cross":0,"benefit":2.25},{"country":"Malaysia","inf":130,"prior":80,"cross":0,"benefit":2.25},{"country":"Malaysia","inf":130,"prior":90,"cross":0,"benefit":1.75},
  {"country":"Malaysia","inf":130,"prior":0,"cross":15,"benefit":6.25},{"country":"Malaysia","inf":130,"prior":10,"cross":15,"benefit":5.25},{"country":"Malaysia","inf":130,"prior":20,"cross":15,"benefit":4.25},{"country":"Malaysia","inf":130,"prior":30,"cross":15,"benefit":3.75},{"country":"Malaysia","inf":130,"prior":40,"cross":15,"benefit":3.25},{"country":"Malaysia","inf":130,"prior":50,"cross":15,"benefit":3.25},{"country":"Malaysia","inf":130,"prior":60,"cross":15,"benefit":2.75},{"country":"Malaysia","inf":130,"prior":70,"cross":15,"benefit":2.25},{"country":"Malaysia","inf":130,"prior":80,"cross":15,"benefit":2.25},{"country":"Malaysia","inf":130,"prior":90,"cross":15,"benefit":1.75},
  {"country":"Malaysia","inf":130,"prior":0,"cross":30,"benefit":6.25},{"country":"Malaysia","inf":130,"prior":10,"cross":30,"benefit":5.25},{"country":"Malaysia","inf":130,"prior":20,"cross":30,"benefit":4.25},{"country":"Malaysia","inf":130,"prior":30,"cross":30,"benefit":3.75},{"country":"Malaysia","inf":130,"prior":40,"cross":30,"benefit":3.25},{"country":"Malaysia","inf":130,"prior":50,"cross":30,"benefit":2.75},{"country":"Malaysia","inf":130,"prior":60,"cross":30,"benefit":2.75},{"country":"Malaysia","inf":130,"prior":70,"cross":30,"benefit":2.25},{"country":"Malaysia","inf":130,"prior":80,"cross":30,"benefit":1.75},{"country":"Malaysia","inf":130,"prior":90,"cross":30,"benefit":1.75},
  {"country":"Malaysia","inf":130,"prior":0,"cross":45,"benefit":6.25},{"country":"Malaysia","inf":130,"prior":10,"cross":45,"benefit":5.25},{"country":"Malaysia","inf":130,"prior":20,"cross":45,"benefit":4.25},{"country":"Malaysia","inf":130,"prior":30,"cross":45,"benefit":3.75},{"country":"Malaysia","inf":130,"prior":40,"cross":45,"benefit":3.25},{"country":"Malaysia","inf":130,"prior":50,"cross":45,"benefit":2.75},{"country":"Malaysia","inf":130,"prior":60,"cross":45,"benefit":2.25},{"country":"Malaysia","inf":130,"prior":70,"cross":45,"benefit":2.25},{"country":"Malaysia","inf":130,"prior":80,"cross":45,"benefit":1.75},{"country":"Malaysia","inf":130,"prior":90,"cross":45,"benefit":1.25},
  {"country":"Malaysia","inf":130,"prior":0,"cross":60,"benefit":6.25},{"country":"Malaysia","inf":130,"prior":10,"cross":60,"benefit":5.25},{"country":"Malaysia","inf":130,"prior":20,"cross":60,"benefit":4.25},{"country":"Malaysia","inf":130,"prior":30,"cross":60,"benefit":3.75},{"country":"Malaysia","inf":130,"prior":40,"cross":60,"benefit":3.25},{"country":"Malaysia","inf":130,"prior":50,"cross":60,"benefit":2.75},{"country":"Malaysia","inf":130,"prior":60,"cross":60,"benefit":2.25},{"country":"Malaysia","inf":130,"prior":70,"cross":60,"benefit":1.75},{"country":"Malaysia","inf":130,"prior":80,"cross":60,"benefit":1.75},{"country":"Malaysia","inf":130,"prior":90,"cross":60,"benefit":1.25},
  {"country":"Malaysia","inf":130,"prior":0,"cross":75,"benefit":6.25},{"country":"Malaysia","inf":130,"prior":10,"cross":75,"benefit":5.25},{"country":"Malaysia","inf":130,"prior":20,"cross":75,"benefit":4.25},{"country":"Malaysia","inf":130,"prior":30,"cross":75,"benefit":3.75},{"country":"Malaysia","inf":130,"prior":40,"cross":75,"benefit":3.25},{"country":"Malaysia","inf":130,"prior":50,"cross":75,"benefit":2.75},{"country":"Malaysia","inf":130,"prior":60,"cross":75,"benefit":2.25},{"country":"Malaysia","inf":130,"prior":70,"cross":75,"benefit":1.75},{"country":"Malaysia","inf":130,"prior":80,"cross":75,"benefit":1.75},{"country":"Malaysia","inf":130,"prior":90,"cross":75,"benefit":1.75},
  {"country":"Malaysia","inf":130,"prior":0,"cross":90,"benefit":6.25},{"country":"Malaysia","inf":130,"prior":10,"cross":90,"benefit":5.25},{"country":"Malaysia","inf":130,"prior":20,"cross":90,"benefit":4.25},{"country":"Malaysia","inf":130,"prior":30,"cross":90,"benefit":3.75},{"country":"Malaysia","inf":130,"prior":40,"cross":90,"benefit":3.25},{"country":"Malaysia","inf":130,"prior":50,"cross":90,"benefit":2.75},{"country":"Malaysia","inf":130,"prior":60,"cross":90,"benefit":2.25},{"country":"Malaysia","inf":130,"prior":70,"cross":90,"benefit":1.75},{"country":"Malaysia","inf":130,"prior":80,"cross":90,"benefit":1.75},{"country":"Malaysia","inf":130,"prior":90,"cross":90,"benefit":2.25}
 ]
}
}
